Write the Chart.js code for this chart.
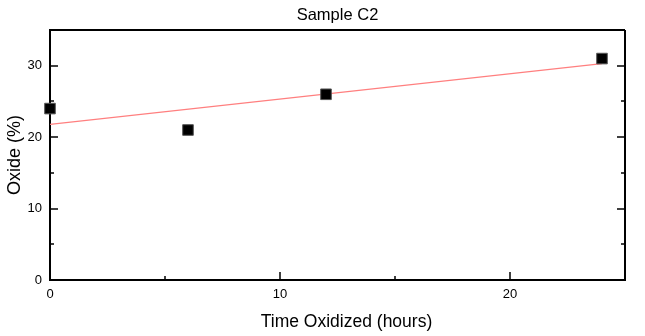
<!DOCTYPE html>
<html>
<head>
<meta charset="utf-8">
<script src="https://cdn.jsdelivr.net/npm/chart.js@4.4.0/dist/chart.umd.min.js"></script>
<style>
  html, body { margin: 0; padding: 0; background: #fff; }
  #wrap { width: 645px; height: 336px; }
</style>
</head>
<body>
<div id="wrap"><canvas id="c" width="645" height="336"></canvas></div>
<script>
const chartTitle = "Sample C2";
const xTitle = "Time Oxidized (hours)";
const yTitle = "Oxide (%)";
const timeHours = [0, 6, 12, 24];
const oxidePct = [24, 21, 26, 31];
const fitX = [0, 24];
const fitY = [21.8, 30.3];
const xRange = [0, 25];
const yRange = [0, 35];
const majorStep = 10;

const FONT = "'Liberation Sans', Arial, sans-serif";

const frameTicks = {
  id: 'frameTicks',
  afterDraw(chart) {
    const ctx = chart.ctx;
    const a = chart.chartArea;
    const xs = chart.scales.x, ys = chart.scales.y;
    ctx.save();
    ctx.strokeStyle = '#000';
    ctx.lineWidth = 2;
    ctx.beginPath();
    ctx.moveTo(a.left, a.top); ctx.lineTo(a.right, a.top);
    ctx.moveTo(a.right, a.top); ctx.lineTo(a.right, a.bottom);
    ctx.stroke();
    ctx.lineWidth = 1.5;
    ctx.beginPath();
    const half = majorStep / 2;
    for (let v = xs.min; v <= xs.max + 1e-9; v += half) {
      const px = Math.round(xs.getPixelForValue(v));
      const len = (Math.abs(v % majorStep) < 1e-9) ? 8 : 4;
      ctx.moveTo(px, a.bottom); ctx.lineTo(px, a.bottom - len);
    }
    for (let v = ys.min; v <= ys.max + 1e-9; v += half) {
      const py = Math.round(ys.getPixelForValue(v));
      const len = (Math.abs(v % majorStep) < 1e-9) ? 8 : 4;
      ctx.moveTo(a.left, py); ctx.lineTo(a.left + len, py);
      ctx.moveTo(a.right, py); ctx.lineTo(a.right - len, py);
    }
    ctx.stroke();
    ctx.fillStyle = '#000';
    ctx.textAlign = 'center';
    ctx.textBaseline = 'middle';
    // chart title
    ctx.font = "16.5px " + FONT;
    ctx.fillText(chartTitle, (a.left + a.right) / 2, 15);
    // x axis title
    ctx.font = "17.5px " + FONT;
    ctx.fillText(xTitle, (a.left + a.right) / 2 + 9, 322);
    ctx.restore();
  }
};

new Chart(document.getElementById('c'), {
  type: 'scatter',
  data: {
    datasets: [
      {
        label: 'fit',
        type: 'line',
        data: fitX.map((x, i) => ({ x, y: fitY[i] })),
        borderColor: '#ff7f7f',
        borderWidth: 1.2,
        pointRadius: 0,
        fill: false,
        order: 2
      },
      {
        label: 'Oxide',
        data: timeHours.map((x, i) => ({ x, y: oxidePct[i] })),
        pointStyle: 'rect',
        pointRadius: 7.5,
        backgroundColor: '#000',
        borderColor: '#555',
        borderWidth: 1,
        clip: false,
        order: 1
      }
    ]
  },
  options: {
    responsive: false,
    animation: false,
    devicePixelRatio: 1,
    layout: { padding: { left: 0, right: 20, top: 30, bottom: 0 } },
    plugins: {
      legend: { display: false },
      tooltip: { enabled: false },
      title: { display: false }
    },
    scales: {
      x: {
        type: 'linear',
        min: xRange[0], max: xRange[1],
        afterFit(s) { s.height = 56; },
        grid: { display: true, drawOnChartArea: false, drawTicks: false },
        border: { display: true, color: '#000', width: 2 },
        ticks: {
          stepSize: majorStep, includeBounds: false,
          color: '#000', padding: 7,
          font: { family: FONT, size: 13 }
        },
        title: { display: false }
      },
      y: {
        type: 'linear',
        min: yRange[0], max: yRange[1],
        afterFit(s) { s.width = 50; },
        grid: { display: true, drawOnChartArea: false, drawTicks: false },
        border: { display: true, color: '#000', width: 2 },
        ticks: {
          stepSize: majorStep, includeBounds: false,
          color: '#000', padding: 8,
          font: { family: FONT, size: 13 }
        },
        title: {
          display: true, text: yTitle, color: '#000',
          font: { family: FONT, size: 18 },
          padding: { top: 4, bottom: 0 }
        }
      }
    }
  },
  plugins: [frameTicks]
});
</script>
</body>
</html>
